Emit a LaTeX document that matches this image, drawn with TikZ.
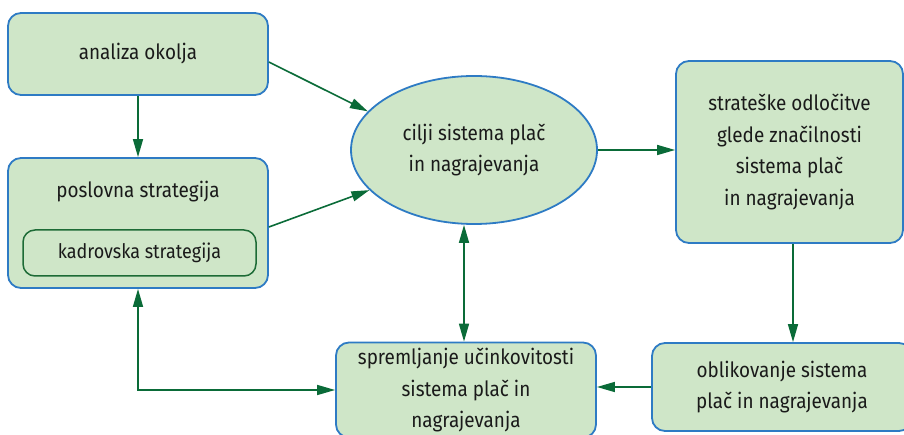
\documentclass[tikz,border=0pt]{standalone}
\usepackage{fontspec}
\setmainfont{Fira Sans}[FakeStretch=0.9]
\usetikzlibrary{arrows.meta,shapes.geometric}
\definecolor{boxfill}{HTML}{CFE6C8}
\definecolor{boxline}{HTML}{2E7BC4}
\definecolor{arrowgreen}{HTML}{0A6B38}
\definecolor{innerline}{HTML}{1D6B36}
\definecolor{txt}{HTML}{1A1A1A}
\begin{document}
\begin{tikzpicture}[x=1pt,y=-1pt,
  every node/.style={text=txt,font=\fontsize{21}{31.5}\selectfont},
  box/.style={draw=boxline,fill=boxfill,line width=1.8pt,rounded corners=13pt,
    align=center,inner sep=0pt},
  innerbox/.style={draw=innerline,fill=boxfill,line width=1.5pt,rounded corners=12pt,
    align=center,inner sep=0pt},
  oval/.style={ellipse,draw=boxline,fill=boxfill,line width=1.8pt,align=center,inner sep=0pt},
  arr/.style={draw=arrowgreen,line width=1.6pt,-{Triangle[length=18pt,width=10pt]}},
  arrboth/.style={draw=arrowgreen,line width=1.6pt,
    {Triangle[length=18pt,width=10pt]}-{Triangle[length=18pt,width=10pt]}}]
\useasboundingbox (0,0) rectangle (904,435);

% boxes
\node[box,minimum width=260pt,minimum height=82pt] (ana) at (138,54) {analiza okolja};
\node[box,minimum width=260pt,minimum height=130pt] (pos) at (138,223) {};
\node (postxt) at (138,192) {poslovna strategija};
\node[innerbox,minimum width=233pt,minimum height=46pt] (kad) at (139.5,253)
  {\fontsize{20}{22}\selectfont kadrovska strategija};
\node[oval,minimum width=246pt,minimum height=148pt] (cilji) at (474,150)
  {cilji sistema plač\\in nagrajevanja};
\node[box,minimum width=227pt,minimum height=182pt] (str) at (789.5,152)
  {strateške odločitve\\glede značilnosti\\sistema plač\\in nagrajevanja};
\node[box,minimum width=260pt,minimum height=88pt] (obl) at (782,387)
  {oblikovanje sistema\\plač in nagrajevanja};
\node[box,minimum width=260pt,minimum height=95pt] (spr) at (466,390)
  {spremljanje učinkovitosti\\sistema plač in\\nagrajevanja};

% connectors
\draw[arr] (ana.south) -- (pos.north);
\draw[arr] ([yshift=-8pt]ana.east) -- (cilji.160);
\draw[arr] ([yshift=-4pt]pos.east) -- (cilji.201);
\draw[arr] (cilji.east) -- (cilji.east -| str.west);
\draw[arr] ([xshift=3.5pt]str.south) -- ([xshift=3.5pt]str.south |- obl.north);
\draw[arr] (obl.west) -- (obl.west -| spr.east);
\draw[arrboth] ([xshift=-2pt]spr.north) -- ([xshift=-2pt]spr.north |- cilji.south);
\draw[arrboth] (pos.south) |- (spr.west);
\end{tikzpicture}
\end{document}
